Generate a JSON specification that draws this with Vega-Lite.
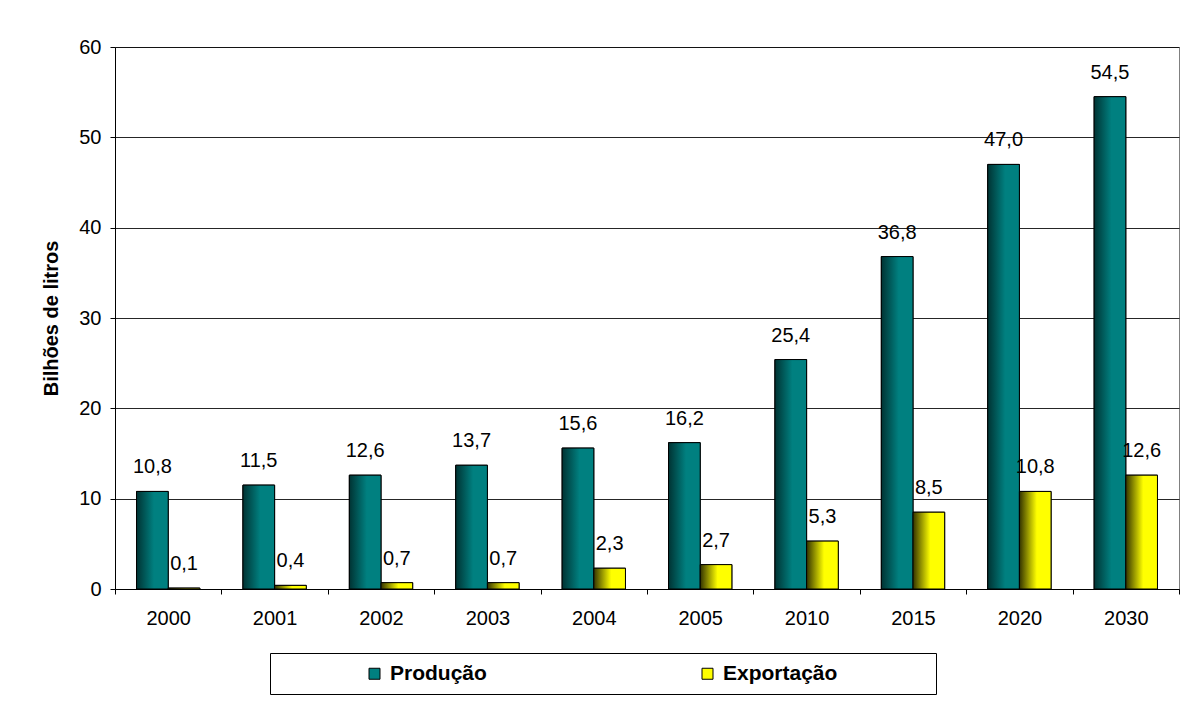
{
  "$schema": "https://vega.github.io/schema/vega-lite/v6.json",
  "autosize": {"type": "none"},
  "padding": {"left": 115, "top": 47, "right": 5, "bottom": 115},
  "width": 1064,
  "height": 542,
  "background": "white",
  "config": {
    "font": "Liberation Sans",
    "view": {"stroke": "#808080", "strokeWidth": 1},
    "locale": {"number": {"decimal": ",", "thousands": ".", "grouping": [3], "currency": ["R$", ""]}}
  },
  "data": {
    "values": [
      {"ano": "2000", "serie": "Produção", "valor": 10.8},
      {"ano": "2000", "serie": "Exportação", "valor": 0.1},
      {"ano": "2001", "serie": "Produção", "valor": 11.5},
      {"ano": "2001", "serie": "Exportação", "valor": 0.4},
      {"ano": "2002", "serie": "Produção", "valor": 12.6},
      {"ano": "2002", "serie": "Exportação", "valor": 0.7},
      {"ano": "2003", "serie": "Produção", "valor": 13.7},
      {"ano": "2003", "serie": "Exportação", "valor": 0.7},
      {"ano": "2004", "serie": "Produção", "valor": 15.6},
      {"ano": "2004", "serie": "Exportação", "valor": 2.3},
      {"ano": "2005", "serie": "Produção", "valor": 16.2},
      {"ano": "2005", "serie": "Exportação", "valor": 2.7},
      {"ano": "2010", "serie": "Produção", "valor": 25.4},
      {"ano": "2010", "serie": "Exportação", "valor": 5.3},
      {"ano": "2015", "serie": "Produção", "valor": 36.8},
      {"ano": "2015", "serie": "Exportação", "valor": 8.5},
      {"ano": "2020", "serie": "Produção", "valor": 47.0},
      {"ano": "2020", "serie": "Exportação", "valor": 10.8},
      {"ano": "2030", "serie": "Produção", "valor": 54.5},
      {"ano": "2030", "serie": "Exportação", "valor": 12.6}
    ]
  },
  "encoding": {
    "x": {
      "field": "ano",
      "type": "ordinal",
      "scale": {"paddingInner": 0, "paddingOuter": 0},
      "axis": {
        "title": null,
        "labelAngle": 0,
        "labelFontSize": 20,
        "labelColor": "black",
        "labelPadding": 14,
        "tickBand": "extent",
        "tickSize": 5,
        "tickColor": "black",
        "domainColor": "black",
        "grid": false
      }
    },
    "xOffset": {
      "field": "serie",
      "type": "nominal",
      "sort": ["Produção", "Exportação"],
      "scale": {"paddingOuter": 0.68, "paddingInner": 0}
    },
    "y": {
      "field": "valor",
      "type": "quantitative",
      "scale": {"domain": [0, 60], "nice": false},
      "axis": {
        "title": "Bilhões de litros",
        "titleFontSize": 20,
        "titleFontWeight": "bold",
        "titleColor": "black",
        "titlePadding": 17,
        "values": [0, 10, 20, 30, 40, 50, 60],
        "labelFontSize": 20,
        "labelColor": "black",
        "labelPadding": 9,
        "tickSize": 5,
        "tickColor": "black",
        "domainColor": "black",
        "grid": true,
        "gridColor": "black",
        "gridOpacity": 0.85
      }
    }
  },
  "layer": [
    {
      "mark": {"type": "bar", "stroke": "black", "strokeWidth": 1},
      "encoding": {
        "color": {
          "field": "serie",
          "type": "nominal",
          "scale": {
            "domain": ["Produção", "Exportação"],
            "range": ["#008080", "#ffff00"]
          },
          "legend": {
            "title": "x",
            "titleOrient": "right",
            "titleColor": "white",
            "titleFontSize": 10,
            "titlePadding": 83,
            "orient": "none",
            "legendX": 155,
            "legendY": 606,
            "direction": "horizontal",
            "symbolType": "square",
            "symbolSize": 121,
            "symbolStrokeColor": "black",
            "symbolStrokeWidth": 1,
            "symbolOpacity": 1,
            "symbolOffset": 84,
            "labelOffset": 5,
            "columnPadding": 126,
            "labelFontSize": 21,
            "labelFontWeight": "bold",
            "labelColor": "black",
            "labelLimit": 400,
            "padding": 10,
            "strokeColor": "black",
            "fillColor": "white"
          }
        }
      }
    },
    {
      "mark": {"type": "bar", "stroke": "black", "strokeWidth": 1},
      "encoding": {
        "color": {
          "condition": {
            "test": "datum.serie == 'Produção'",
            "value": {"gradient": "linear", "x1": 0, "y1": 0, "x2": 1, "y2": 0, "stops": [{"offset": 0, "color": "#003333"}, {"offset": 0.55, "color": "#008080"}, {"offset": 1, "color": "#008080"}]}
          },
          "value": {"gradient": "linear", "x1": 0, "y1": 0, "x2": 1, "y2": 0, "stops": [{"offset": 0, "color": "#333300"}, {"offset": 0.55, "color": "#ffff00"}, {"offset": 1, "color": "#ffff00"}]}
        }
      }
    },
    {
      "mark": {"type": "text", "baseline": "alphabetic", "align": "center", "dy": -18, "fontSize": 20, "color": "black"},
      "encoding": {
        "text": {"field": "valor", "type": "quantitative", "format": ".1f"}
      }
    }
  ]
}
